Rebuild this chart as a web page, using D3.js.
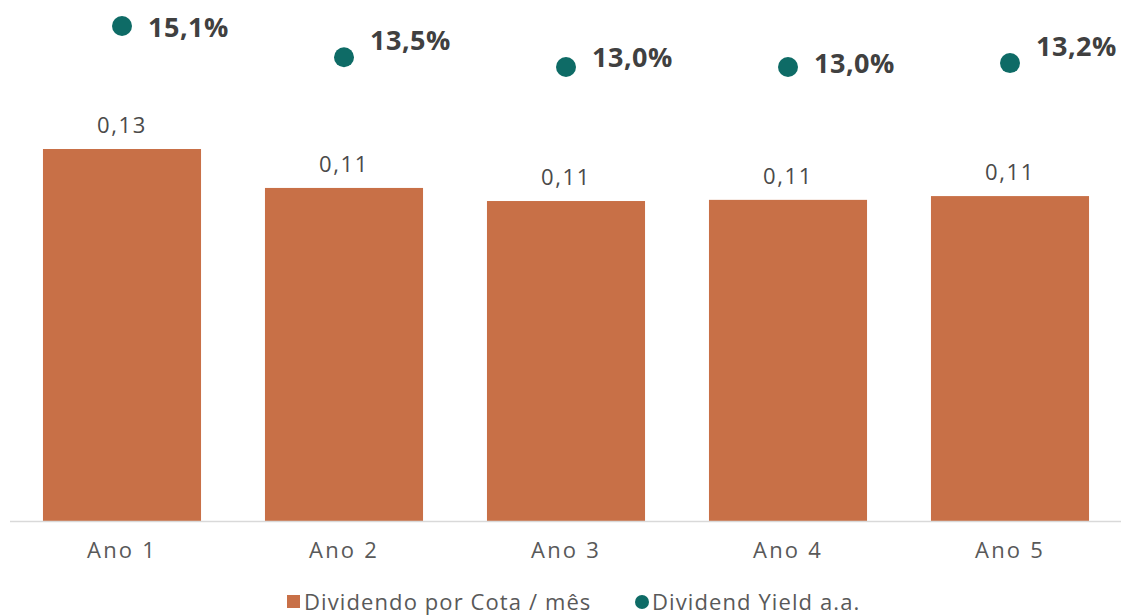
<!DOCTYPE html>
<html>
<head>
<meta charset="utf-8">
<script src="https://cdn.jsdelivr.net/npm/d3@7"></script>
<style>
  body { margin: 0; background: #fff; }
  svg { display: block; font-family: "Open Sans", Lato, sans-serif; }
</style>
</head>
<body>
<div id="chart"></div>
<script>
const categories = ["Ano 1", "Ano 2", "Ano 3", "Ano 4", "Ano 5"];
const dividendo = [0.128, 0.1146, 0.1101, 0.1105, 0.1118];
const yieldPct = [15.1, 13.5, 13.0, 13.0, 13.2];

// manual nudges of the yield labels (like in the original)
const labelDy = [2, -17, -9, -3, -17];

const width = 1122;
const height = 615;
const baseY = 521;
const font = "'Open Sans', Lato, sans-serif";

const svg = d3.select("#chart").append("svg")
  .attr("width", width)
  .attr("height", height);

const x = d3.scaleBand()
  .domain(categories)
  .range([11, 1121])
  .paddingInner(0.288)
  .paddingOuter(0.144);

const y = d3.scaleLinear()
  .domain([0, 0.128])
  .range([baseY, 149]);

const y2 = d3.scaleLinear()
  .domain([13.0, 15.1])
  .range([67, 26]);

const fmt = d3.format(".2f");
const comma = s => s.replace(".", ",");

// bars
svg.append("g")
  .selectAll("rect")
  .data(dividendo)
  .join("rect")
  .attr("x", (d, i) => x(categories[i]))
  .attr("y", d => y(d))
  .attr("width", x.bandwidth())
  .attr("height", d => baseY - y(d))
  .attr("fill", "#c87047");

// bar value labels
svg.append("g")
  .selectAll("text")
  .data(dividendo)
  .join("text")
  .attr("x", (d, i) => x(categories[i]) + x.bandwidth() / 2)
  .attr("y", d => y(d) - 16)
  .attr("text-anchor", "middle")
  .attr("font-size", 22)
  .attr("letter-spacing", 1.6)
  .attr("fill", "#4a4a4a")
  .text(d => comma(fmt(d)));

// baseline
svg.append("line")
  .attr("x1", 10)
  .attr("x2", 1121)
  .attr("y1", baseY + 0.5)
  .attr("y2", baseY + 0.5)
  .attr("stroke", "#d9d9d9")
  .attr("stroke-width", 1.5);

// category axis
const xAxis = svg.append("g")
  .attr("transform", `translate(0, ${baseY})`)
  .call(d3.axisBottom(x).tickSize(0).tickPadding(21));
xAxis.select(".domain").remove();
xAxis.selectAll("text")
  .attr("font-family", font)
  .attr("font-size", 22)
  .attr("letter-spacing", 2.2)
  .attr("fill", "#595959");

// yield dots
svg.append("g")
  .selectAll("circle")
  .data(yieldPct)
  .join("circle")
  .attr("cx", (d, i) => x(categories[i]) + x.bandwidth() / 2)
  .attr("cy", d => y2(d))
  .attr("r", 10)
  .attr("fill", "#0e6b66");

svg.append("g")
  .selectAll("text")
  .data(yieldPct)
  .join("text")
  .attr("x", (d, i) => x(categories[i]) + x.bandwidth() / 2 + 26)
  .attr("y", (d, i) => y2(d) + labelDy[i])
  .attr("dy", "0.35em")
  .attr("font-size", 27)
  .attr("letter-spacing", 0.5)
  .attr("font-weight", "bold")
  .attr("fill", "#404040")
  .text(d => comma(d.toFixed(1)) + "%");

// legend
const legend = svg.append("g").attr("transform", "translate(0, 602)");
legend.append("rect")
  .attr("x", 287).attr("y", -7)
  .attr("width", 13).attr("height", 13)
  .attr("fill", "#c87047");
legend.append("text")
  .attr("x", 304).attr("y", 0)
  .attr("dy", "0.35em")
  .attr("font-size", 22)
  .attr("letter-spacing", 1.1)
  .attr("fill", "#595959")
  .text("Dividendo por Cota / mês");
legend.append("circle")
  .attr("cx", 642).attr("cy", 0)
  .attr("r", 7)
  .attr("fill", "#0e6b66");
legend.append("text")
  .attr("x", 652).attr("y", 0)
  .attr("dy", "0.35em")
  .attr("font-size", 22)
  .attr("letter-spacing", 1.1)
  .attr("fill", "#595959")
  .text("Dividend Yield a.a.");
</script>
</body>
</html>
